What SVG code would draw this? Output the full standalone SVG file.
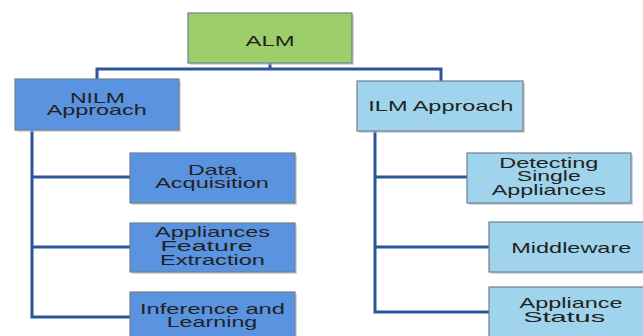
<svg xmlns="http://www.w3.org/2000/svg" width="643" height="336" viewBox="0 0 643 336">
<style>
.bx{stroke:#6f8090;stroke-width:1.2}
.sh{fill:#b8bcc2;opacity:0.6}
.g{fill:#9ccf6b}
.b{fill:#5a93e0}
.l{fill:#9fd4ec}
text{font-family:"Liberation Sans",Arial,sans-serif;font-size:15px;fill:#222;text-anchor:middle}
.c{fill:none;stroke:#2b5699;stroke-width:3;stroke-linejoin:miter}
</style>
<rect width="643" height="336" fill="#fff"/>
<g id="connectors">
<path class="c" d="M270,63 V69 M97,79 V69 H441 V81"/>
<path class="c" d="M32,130 V317 H130 M32,177 H130 M32,247 H130"/>
<path class="c" d="M375,131 V312 H489 M375,177 H467 M375,247 H489"/>
</g>
<g id="alm">
<rect class="sh" x="190" y="15" width="164" height="50"/>
<rect class="bx g" x="188" y="13" width="164" height="50"/>
<text x="270" y="46" textLength="49" lengthAdjust="spacingAndGlyphs">ALM</text>
</g>
<g id="nilm">
<rect class="sh" x="17" y="81" width="164" height="51"/>
<rect class="bx b" x="15" y="79" width="164" height="51"/>
<text x="97.5" y="103" textLength="55" lengthAdjust="spacingAndGlyphs">NILM</text>
<text x="96.7" y="115" textLength="100" lengthAdjust="spacingAndGlyphs">Approach</text>
</g>
<g id="data">
<rect class="sh" x="132" y="155" width="165" height="50"/>
<rect class="bx b" x="130" y="153" width="165" height="50"/>
<text x="212.5" y="175" textLength="49" lengthAdjust="spacingAndGlyphs">Data</text>
<text x="212" y="188" textLength="113.7" lengthAdjust="spacingAndGlyphs">Acquisition</text>
</g>
<g id="feature">
<rect class="sh" x="132" y="225" width="165" height="49"/>
<rect class="bx b" x="130" y="223" width="165" height="49"/>
<text x="212.5" y="237" textLength="115" lengthAdjust="spacingAndGlyphs">Appliances</text>
<text x="206.5" y="251" textLength="92" lengthAdjust="spacingAndGlyphs">Feature</text>
<text x="212.5" y="265" textLength="105" lengthAdjust="spacingAndGlyphs">Extraction</text>
</g>
<g id="inference">
<rect class="sh" x="132" y="294" width="165" height="60"/>
<rect class="bx b" x="130" y="292" width="165" height="60"/>
<text x="212.5" y="314" textLength="145" lengthAdjust="spacingAndGlyphs">Inference and</text>
<text x="212" y="327" textLength="90.6" lengthAdjust="spacingAndGlyphs">Learning</text>
</g>
<g id="ilm">
<rect class="sh" x="359" y="83" width="166" height="50"/>
<rect class="bx l" x="357" y="81" width="166" height="50"/>
<text x="440.8" y="111" textLength="145" lengthAdjust="spacingAndGlyphs">ILM Approach</text>
</g>
<g id="detecting">
<rect class="sh" x="469" y="155" width="164" height="50"/>
<rect class="bx l" x="467" y="153" width="164" height="50"/>
<text x="548.8" y="168" textLength="99" lengthAdjust="spacingAndGlyphs">Detecting</text>
<text x="548.8" y="181" textLength="64" lengthAdjust="spacingAndGlyphs">Single</text>
<text x="548.8" y="195" textLength="114" lengthAdjust="spacingAndGlyphs">Appliances</text>
</g>
<g id="middleware">
<rect class="sh" x="491" y="224" width="170" height="50"/>
<rect class="bx l" x="489" y="222" width="170" height="50"/>
<text x="571.3" y="252.7" textLength="120" lengthAdjust="spacingAndGlyphs">Middleware</text>
</g>
<g id="status">
<rect class="sh" x="491" y="289" width="170" height="60"/>
<rect class="bx l" x="489" y="287" width="170" height="60"/>
<text x="571" y="308" textLength="103" lengthAdjust="spacingAndGlyphs">Appliance</text>
<text x="564.2" y="321.7" textLength="82" lengthAdjust="spacingAndGlyphs">Status</text>
</g>
</svg>
